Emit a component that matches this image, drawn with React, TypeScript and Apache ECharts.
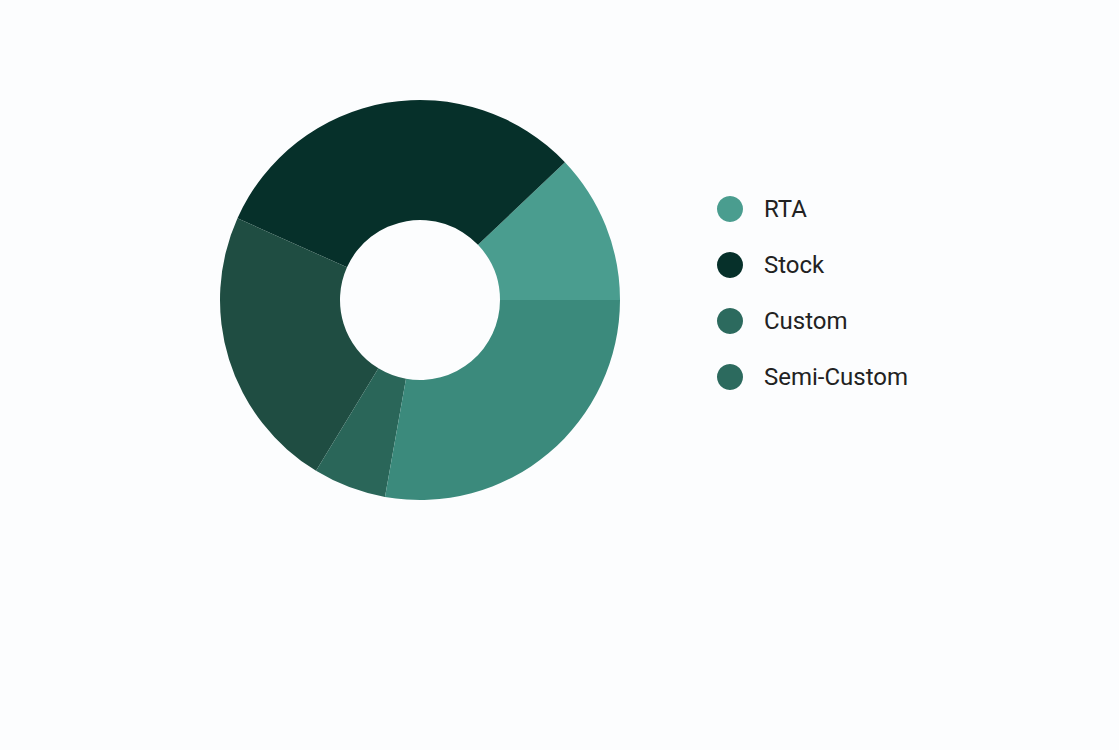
import React, { useEffect, useRef } from "react";
import * as echarts from "echarts";

const names = ["RTA", "Stock", "Custom", "Semi-Custom", "Other"];
const values = [12.1, 31.2, 23.0, 5.9, 27.8];
const sliceColors = ["#4a9d8f", "#06302a", "#1f4d42", "#2a6659", "#3b8a7c"];
const legendNames = ["RTA", "Stock", "Custom", "Semi-Custom"];
const legendColors = ["#4a9d8f", "#06302a", "#2c6a5e", "#2c6a5e"];

export default function App() {
  const ref = useRef<HTMLDivElement>(null);
  useEffect(() => {
    const chart = echarts.init(ref.current!, null, { renderer: "svg" });
    chart.setOption({
      animation: false,
      backgroundColor: "#fcfdfe",
      legend: {
        orient: "vertical",
        left: 712,
        top: 191,
        icon: "circle",
        itemWidth: 26,
        itemHeight: 26,
        itemGap: 30,
        data: legendNames.map((n, i) => ({ name: n, itemStyle: { color: legendColors[i] } })),
        textStyle: {
          fontFamily: "Roboto",
          fontSize: 24,
          fontWeight: 400,
          color: "#222222",
          padding: [0, 0, 0, 16],
        },
      },
      series: [
        {
          type: "pie",
          center: [420, 300],
          radius: [80, 200],
          startAngle: 0,
          clockwise: false,
          label: { show: false },
          labelLine: { show: false },
          emphasis: { disabled: true },
          data: names.map((n, i) => ({
            name: n,
            value: values[i],
            itemStyle: { color: sliceColors[i] },
          })),
        },
      ],
    });
    return () => chart.dispose();
  }, []);
  return (
    <div
      ref={ref}
      style={{ position: "fixed", left: 0, top: 0, width: 1119, height: 750 }}
    />
  );
}
